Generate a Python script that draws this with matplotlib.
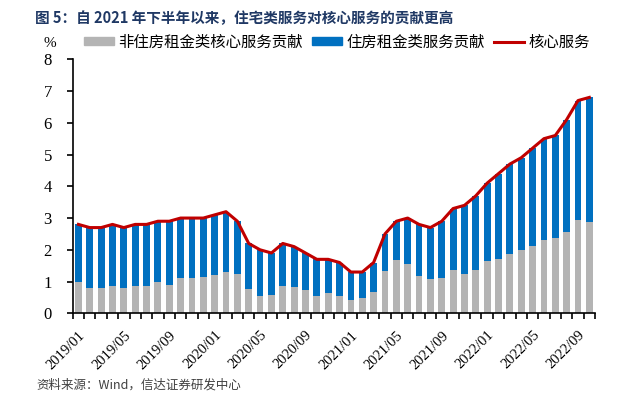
import matplotlib
matplotlib.use("Agg")
import matplotlib.pyplot as plt
from matplotlib.patches import Patch
from matplotlib.lines import Line2D
import numpy as np

plt.rcParams['font.family'] = ['Noto Sans CJK SC', 'DejaVu Sans']

# monthly, 2019/01 - 2022/10
months = []
for y in range(2019, 2023):
    for m in range(1, 13):
        months.append(f"{y}/{m:02d}")
months = months[:46]

core = [2.8, 2.7, 2.7, 2.8, 2.7, 2.8, 2.8, 2.9, 2.9, 3.0, 3.0, 3.0, 3.1, 3.2, 2.9,
        2.2, 2.0, 1.9, 2.2, 2.1, 1.9, 1.7, 1.7, 1.6, 1.3, 1.3, 1.6, 2.5, 2.9, 3.0,
        2.8, 2.7, 2.9, 3.3, 3.4, 3.7, 4.1, 4.4, 4.7, 4.9, 5.2, 5.5, 5.6, 6.1, 6.7, 6.8]
non_housing = [1.0, 0.8, 0.8, 0.85, 0.8, 0.85, 0.85, 1.0, 0.88, 1.1, 1.1, 1.15, 1.2, 1.3, 1.23,
               0.77, 0.56, 0.57, 0.86, 0.82, 0.73, 0.54, 0.65, 0.55, 0.42, 0.48, 0.66, 1.34, 1.68, 1.54,
               1.19, 1.09, 1.11, 1.35, 1.23, 1.35, 1.65, 1.71, 1.86, 1.98, 2.12, 2.31, 2.36, 2.57, 2.94, 2.88]
housing = [1.8, 1.9, 1.9, 1.95, 1.9, 1.95, 1.95, 1.9, 2.02, 1.9, 1.9, 1.85, 1.9, 1.9, 1.67,
           1.43, 1.44, 1.33, 1.34, 1.28, 1.17, 1.16, 1.05, 1.05, 0.88, 0.82, 0.94, 1.16, 1.22, 1.46,
           1.61, 1.61, 1.79, 1.95, 2.17, 2.35, 2.45, 2.69, 2.84, 2.92, 3.08, 3.19, 3.24, 3.53, 3.76, 3.92]

names = ["非住房租金类核心服务贡献", "住房租金类服务贡献", "核心服务"]
c_gray, c_blue, c_red = "#B4B4B4", "#0070C0", "#C00000"

fig = plt.figure(figsize=(6.33, 3.95), dpi=100)
ax = fig.add_axes([0.1149, 0.2068, 0.8251, 0.6431])

x = np.arange(len(months))
ax.bar(x, non_housing, width=0.6, color=c_gray, zorder=2)
ax.bar(x, housing, width=0.6, bottom=non_housing, color=c_blue, zorder=2)
ax.plot(x, core, color=c_red, lw=2.2, zorder=3)

ax.set_xlim(-0.5, len(months) - 0.5)
ax.set_ylim(0, 8)
for s in ["top", "right"]:
    ax.spines[s].set_visible(False)
for s in ["left", "bottom"]:
    ax.spines[s].set_linewidth(1.2)

serif = "Liberation Serif"
ax.set_yticks(range(0, 9))
ax.set_yticklabels([str(v) for v in range(0, 9)], fontfamily=serif, fontsize=12)
ax.tick_params(axis="y", direction="out", length=4, width=1.2, pad=11)

ax.set_xticks(x[::4])
ax.set_xticklabels(months[::4], rotation=45, ha="right", rotation_mode="anchor",
                   fontfamily=serif, fontsize=10.5)
ax.tick_params(axis="x", which="major", length=0, pad=11)
ax.set_xticks(np.arange(-0.5, len(months)), minor=True)
ax.tick_params(axis="x", which="minor", direction="out", length=4, width=1.2)

fig.text(0.079, 0.891, "%", fontfamily=serif, fontsize=11, ha="center", va="center")

handles = [Patch(color=c_gray), Patch(color=c_blue), Line2D([], [], color=c_red, lw=2.2)]
fig.legend(handles, names, loc="center left", bbox_to_anchor=(0.11, 0.894), ncol=3,
           frameon=False, fontsize=11.1, handlelength=1.95, handleheight=0.45,
           handletextpad=0.3, columnspacing=0.6)

fig.text(0.055, 0.975, "图 5：自 2021 年下半年以来，住宅类服务对核心服务的贡献更高",
         fontsize=10.5, fontweight="bold", color="#1F3864", ha="left", va="top")
fig.text(0.058, 0.025, "资料来源：Wind，信达证券研发中心", fontsize=9,
         color="#404040", ha="left", va="center")

fig.savefig("out.png", dpi=100)
